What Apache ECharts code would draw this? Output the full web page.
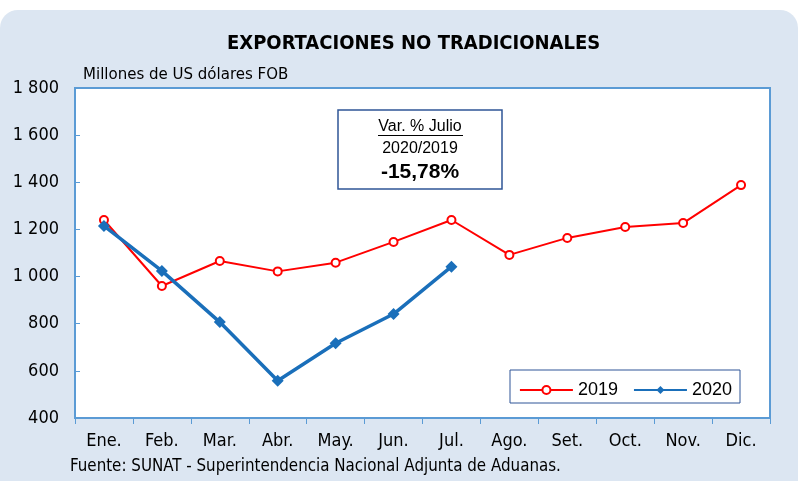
<!DOCTYPE html>
<html><head><meta charset="utf-8">
<script src="https://cdn.jsdelivr.net/npm/echarts@6/dist/echarts.min.js"></script>
<style>html,body{margin:0;padding:0;background:#fff}#c{width:798px;height:481px}</style>
</head><body><div id="c"></div>
<script>
const categories = ['Ene.','Feb.','Mar.','Abr.','May.','Jun.','Jul.','Ago.','Set.','Oct.','Nov.','Dic.'];
const values2019 = [1240, 960, 1066, 1022, 1059, 1147, 1240, 1092, 1164, 1210, 1227, 1388];
const values2020 = [1215, 1024, 807, 558, 717, 841, 1042];
const yTicks = [400, 600, 800, 1000, 1200, 1400, 1600, 1800];
const FONT = '"DejaVu Sans Condensed","Liberation Sans Narrow",sans-serif';
const ARIAL = '"Liberation Sans",Arial,sans-serif';
const chart = echarts.init(document.getElementById('c'));
function fmt(v){ return String(v).replace(/\B(?=(\d{3})+(?!\d))/g,' '); }
chart.setOption({
  animation:false,
  backgroundColor:'#fff',
  graphic:[
    {type:'rect', z:-10, shape:{x:0,y:10,width:798,height:480,r:[18,18,0,0]}, style:{fill:'#dce6f2'}},
    {type:'rect', z:10, shape:{x:338,y:110,width:164,height:79}, style:{fill:'#fff',stroke:'#2f5597',lineWidth:1.5}},
    {type:'text', z:11, style:{x:420,y:119,text:'Var. % Julio',font:'16px '+ARIAL,fill:'#000',textAlign:'center'}},
    {type:'rect', z:11, shape:{x:378,y:135,width:85,height:1}, style:{fill:'#000'}},
    {type:'text', z:11, style:{x:420,y:141,text:'2020/2019',font:'16px '+ARIAL,fill:'#000',textAlign:'center'}},
    {type:'text', z:11, style:{x:420,y:162,text:'-15,78%',font:'bold 21px '+ARIAL,fill:'#000',textAlign:'center'}},
    {type:'text', style:{x:83,y:66,text:'Millones de US dólares FOB',font:'16.7px '+FONT,fill:'#000'}},
    {type:'text', style:{x:70,y:458,text:'Fuente: SUNAT - Superintendencia Nacional Adjunta de Aduanas.',font:'16.8px '+FONT,fill:'#000'}},
    {type:'rect', z:5, shape:{x:510,y:370,width:230,height:33}, style:{fill:'#fff',stroke:'#2f5597',lineWidth:1}}
  ],
  title:{text:'EXPORTACIONES NO TRADICIONALES', left:222, top:29,
    textStyle:{fontFamily:FONT,fontSize:20,fontWeight:'bold',color:'#000'}},
  legend:{right:61, top:376, itemWidth:53, itemHeight:10, itemGap:15, z:20,
    textStyle:{fontFamily:ARIAL,fontSize:18,color:'#000'},
    data:['2019','2020']},
  grid:{left:75, right:28, top:88, bottom:63, show:true, backgroundColor:'#fff', borderColor:'#5b9bd5', borderWidth:2},
  xAxis:{type:'category', data:categories, boundaryGap:true,
    axisLine:{lineStyle:{color:'#5b9bd5',width:2}},
    axisTick:{show:true,length:6,lineStyle:{color:'#5b9bd5'}},
    axisLabel:{fontFamily:FONT,fontSize:18,color:'#000',margin:14}},
  yAxis:{type:'value', min:400, max:1800, interval:200,
    axisLine:{show:true,lineStyle:{color:'#5b9bd5',width:2}},
    axisTick:{show:true,inside:true,length:5,lineStyle:{color:'#5b9bd5'}},
    splitLine:{show:false},
    axisLabel:{fontFamily:FONT,fontSize:18,color:'#000',margin:16,formatter:v=>fmt(v)}},
  series:[
    {name:'2019', type:'line', data:values2019, symbol:'emptyCircle', symbolSize:8,
      lineStyle:{color:'#ff0000',width:2}, itemStyle:{color:'#ff0000',borderColor:'#ff0000',borderWidth:2}, z:3},
    {name:'2020', type:'line', data:values2020, symbol:'diamond', symbolSize:12,
      lineStyle:{color:'#1a6fba',width:3.5}, itemStyle:{color:'#1a6fba'}, z:4}
  ]
});
</script></body></html>
